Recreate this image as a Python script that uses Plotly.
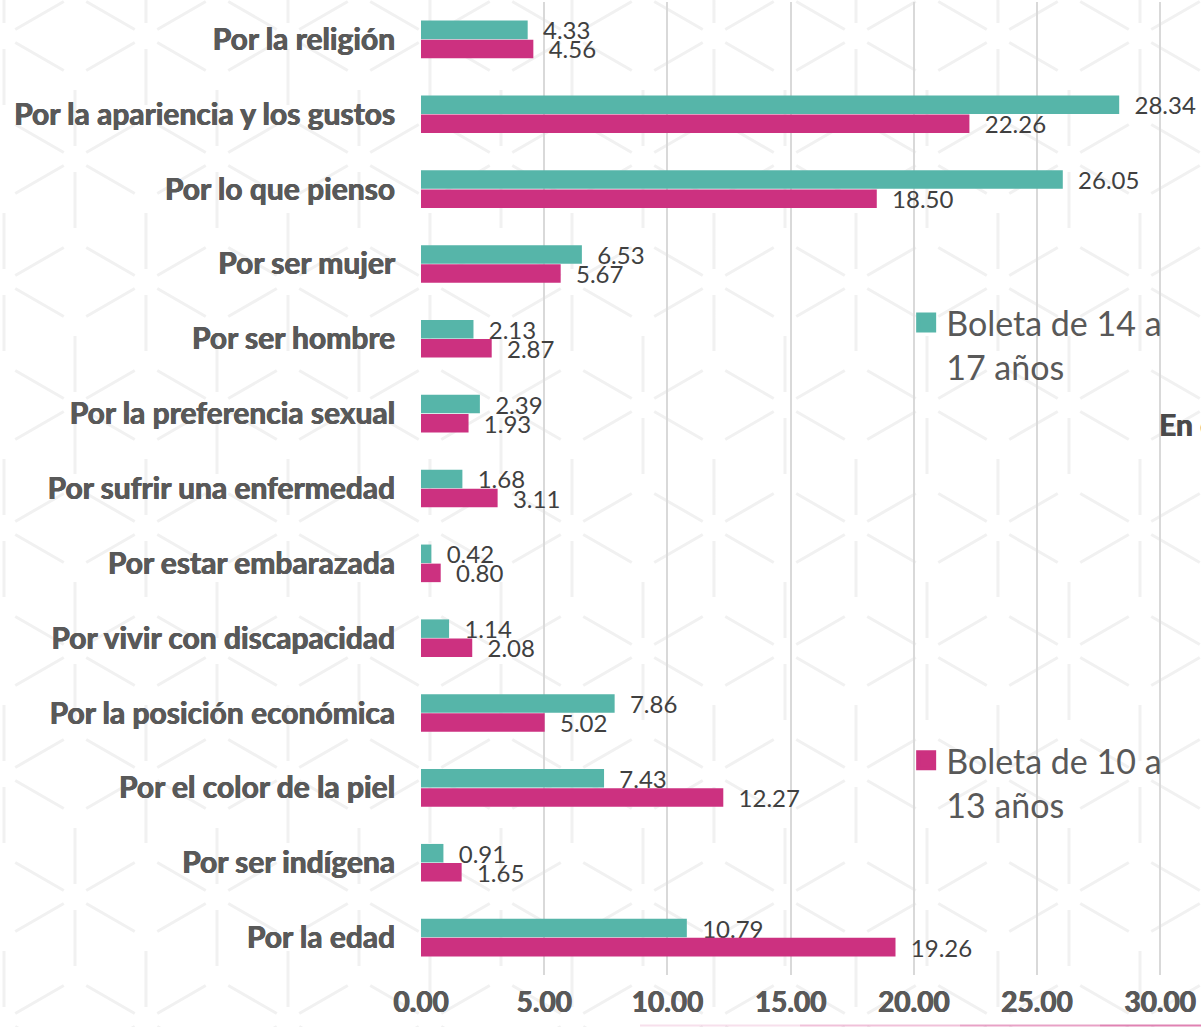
import math
import plotly.graph_objects as go

# Motivos de discriminación (de arriba hacia abajo)
categorias = [
    "Por la religión",
    "Por la apariencia y los gustos",
    "Por lo que pienso",
    "Por ser mujer",
    "Por ser hombre",
    "Por la preferencia sexual",
    "Por sufrir una enfermedad",
    "Por estar embarazada",
    "Por vivir con discapacidad",
    "Por la posición económica",
    "Por el color de la piel",
    "Por ser indígena",
    "Por la edad",
]

# Porcentajes por boleta
boleta_14_17 = [4.33, 28.34, 26.05, 6.53, 2.13, 2.39, 1.68, 0.42, 1.14, 7.86, 7.43, 0.91, 10.79]
boleta_10_13 = [4.56, 22.26, 18.50, 5.67, 2.87, 1.93, 3.11, 0.80, 2.08, 5.02, 12.27, 1.65, 19.26]

nombre_14_17 = "Boleta de 14 a<br>17 años"
nombre_10_13 = "Boleta de 10 a<br>13 años"

ticks_x = [0, 5, 10, 15, 20, 25, 30]

TEAL = "#56B5A9"
MAGENTA = "#CC3180"
GRIS = "#595959"
GRUESO = f"0.6px 0 0 {GRIS}, -0.3px 0 0 {GRIS}"

W, H = 1201, 1027
ML, MR, MT, MB = 421, 0, 2, 52
PW, PH = W - ML - MR, H - MT - MB


def to_paper(px, py):
    """Pixel position on the page -> paper coordinates of the plot area."""
    return (px - ML) / PW, (H - MB - py) / PH


def fondo_cubos(a=71.0, x0=998.0, y0=446.0, recorte=13.0):
    """Faint tumbling-blocks texture as a single SVG path in paper units."""
    R = a / math.cos(math.radians(30))
    dy = 1.5 * R
    segs = set()
    for j in range(-6, 6):
        for i in range(-8, 8):
            cx = x0 + 2 * a * i + (a if j % 2 else 0)
            cy = y0 + dy * j
            if cx < -2 * a or cx > W + 2 * a or cy < -2 * R or cy > H + 2 * R:
                continue
            v = [(cx, cy - R), (cx + a, cy - R / 2), (cx + a, cy + R / 2),
                 (cx, cy + R), (cx - a, cy + R / 2), (cx - a, cy - R / 2)]
            for k in range(6):
                p, q = v[k], v[(k + 1) % 6]
                key = tuple(sorted([(round(p[0]), round(p[1])), (round(q[0]), round(q[1]))]))
                segs.add(key)
            for p in (v[5], v[1], v[3]):
                segs.add(((round(cx), round(cy)), (round(p[0]), round(p[1]))))
    parts = []
    for (x1, y1), (x2, y2) in segs:
        L = math.hypot(x2 - x1, y2 - y1)
        ux, uy = (x2 - x1) / L, (y2 - y1) / L
        ax, ay = x1 + ux * recorte, y1 + uy * recorte
        bx, by = x2 - ux * recorte, y2 - uy * recorte
        pa, pb = to_paper(ax, ay), to_paper(bx, by)
        parts.append(f"M{pa[0]:.4f},{pa[1]:.4f}L{pb[0]:.4f},{pb[1]:.4f}")
    return "".join(parts)


fig = go.Figure()

for valores, color in [(boleta_14_17, TEAL), (boleta_10_13, MAGENTA)]:
    fig.add_trace(go.Bar(
        y=categorias,
        x=valores,
        orientation="h",
        marker=dict(color=color, line=dict(width=0)),
        text=[f"{v:.2f}" for v in valores],
        texttemplate="\u00a0\u00a0%{text}",
        textposition="outside",
        constraintext="none",
        cliponaxis=False,
        textfont=dict(family="Lato", size=24, color="#404040"),
        showlegend=False,
        hoverinfo="skip",
    ))

# Entradas de leyenda con cuadro grande
fig.add_trace(go.Scatter(
    x=[None], y=[None], mode="markers", name=nombre_14_17,
    marker=dict(symbol="square", size=20, color=TEAL, line=dict(width=4, color=TEAL)),
    legend="legend",
))
fig.add_trace(go.Scatter(
    x=[None], y=[None], mode="markers", name=nombre_10_13,
    marker=dict(symbol="square", size=20, color=MAGENTA, line=dict(width=4, color=MAGENTA)),
    legend="legend2",
))

legend_font = dict(family="Lato", size=34, color=GRIS, weight=400)

en_x, en_y = to_paper(1157, 424)

shapes = [
    dict(type="path", path=fondo_cubos(), xref="paper", yref="paper",
         line=dict(color="#F1F1F1", width=3), layer="below"),
]
# Filete rosa inferior, de claro a intenso
for xa, xb, alpha in [(640, 800, 0.15), (800, 960, 0.3), (960, 1100, 0.45), (1100, 1201, 0.6)]:
    pa, pb = to_paper(xa, 1025.5), to_paper(xb, 1025.5)
    shapes.append(dict(type="line", xref="paper", yref="paper",
                       x0=pa[0], y0=pa[1], x1=pb[0], y1=pb[1],
                       line=dict(color=f"rgba(204,49,128,{alpha})", width=2)))

fig.update_layout(
    width=W,
    height=H,
    margin=dict(l=ML, r=MR, t=MT, b=MB),
    paper_bgcolor="white",
    plot_bgcolor="rgba(0,0,0,0)",
    barmode="group",
    bargap=0.49,
    bargroupgap=0.03,
    shapes=shapes,
    legend=dict(
        x=0.622, y=0.70, xanchor="left", yanchor="top",
        font=legend_font, itemsizing="trace", valign="top",
        bgcolor="rgba(0,0,0,0)",
    ),
    legend2=dict(
        x=0.622, y=0.25, xanchor="left", yanchor="top",
        font=legend_font, itemsizing="trace", valign="top",
        bgcolor="rgba(0,0,0,0)",
    ),
    xaxis=dict(
        range=[0, 31.66],
        tickvals=ticks_x,
        ticktext=[f"{t:.2f}" for t in ticks_x],
        tickfont=dict(family="Lato", size=28, color=GRIS, weight="bold", shadow=GRUESO),
        showgrid=True,
        gridcolor="#D9D9D9",
        gridwidth=1.5,
        zeroline=False,
        showline=False,
        ticks="",
        ticklabelstandoff=8,
        fixedrange=True,
    ),
    yaxis=dict(
        categoryorder="array",
        categoryarray=categorias,
        autorange="reversed",
        tickfont=dict(family="Lato", size=30, color=GRIS, weight="bold", shadow=GRUESO),
        showgrid=False,
        zeroline=False,
        showline=False,
        ticks="",
        ticklabelstandoff=25,
        fixedrange=True,
    ),
    annotations=[
        dict(
            text="En c", x=en_x, y=en_y,
            xref="paper", yref="paper", xanchor="left", yanchor="middle",
            showarrow=False,
            font=dict(family="Lato", size=30, color="#4A4A4A", weight="bold", shadow=GRUESO),
        )
    ],
)

fig.write_html("out.html")
